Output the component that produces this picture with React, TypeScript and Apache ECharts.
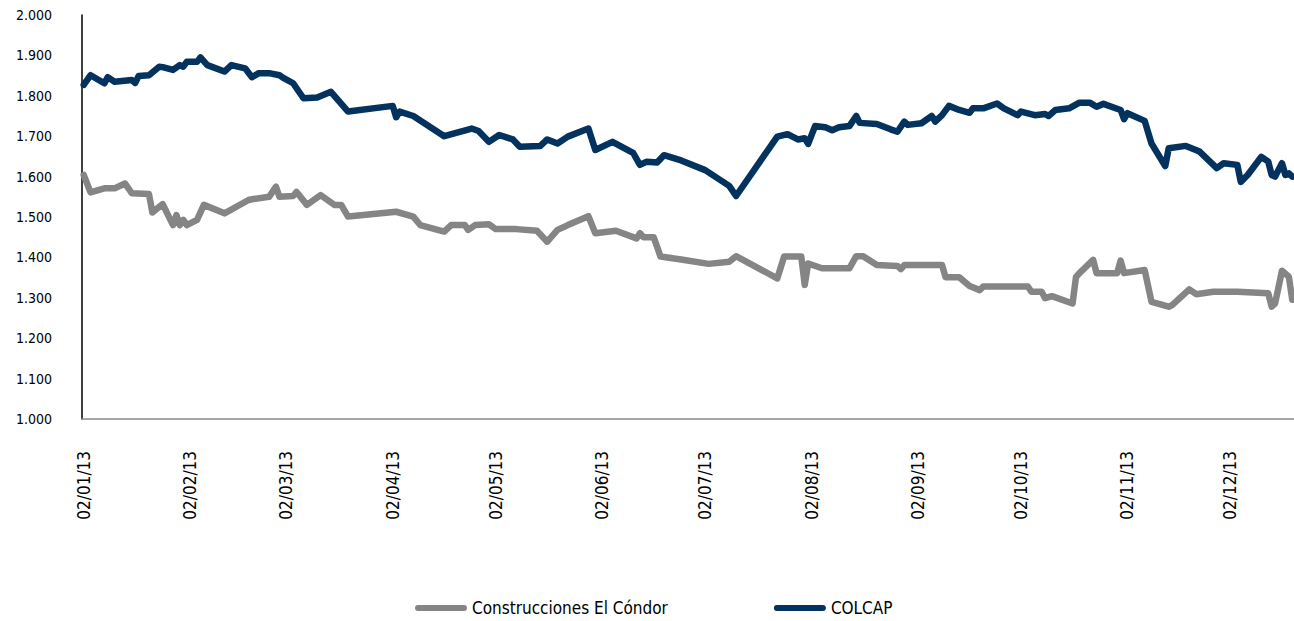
import React, { useEffect, useRef } from "react";
import * as echarts from "echarts";

const seriesNames = ["Construcciones El Cóndor", "COLCAP"];

const colcapDates = [
  "2013-01-02", "2013-01-04", "2013-01-08", "2013-01-09", "2013-01-11", "2013-01-16", "2013-01-17", "2013-01-18",
  "2013-01-21", "2013-01-24", "2013-01-25", "2013-01-28", "2013-01-30", "2013-01-31", "2013-02-01", "2013-02-04",
  "2013-02-05", "2013-02-07", "2013-02-12", "2013-02-14", "2013-02-18", "2013-02-20", "2013-02-22", "2013-02-25",
  "2013-02-28", "2013-03-01", "2013-03-04", "2013-03-07", "2013-03-11", "2013-03-15", "2013-03-20", "2013-04-02",
  "2013-04-03", "2013-04-04", "2013-04-08", "2013-04-17", "2013-04-25", "2013-04-27", "2013-04-30", "2013-05-03",
  "2013-05-07", "2013-05-09", "2013-05-15", "2013-05-17", "2013-05-20", "2013-05-23", "2013-05-29", "2013-05-31",
  "2013-06-05", "2013-06-11", "2013-06-13", "2013-06-15", "2013-06-18", "2013-06-20", "2013-06-25", "2013-07-02",
  "2013-07-09", "2013-07-11", "2013-07-23", "2013-07-26", "2013-07-29", "2013-07-31", "2013-08-01", "2013-08-03",
  "2013-08-06", "2013-08-08", "2013-08-10", "2013-08-13", "2013-08-15", "2013-08-16", "2013-08-21", "2013-08-25",
  "2013-08-27", "2013-08-29", "2013-08-30", "2013-09-03", "2013-09-06", "2013-09-07", "2013-09-09", "2013-09-11",
  "2013-09-14", "2013-09-17", "2013-09-18", "2013-09-21", "2013-09-25", "2013-09-27", "2013-10-01", "2013-10-02",
  "2013-10-06", "2013-10-09", "2013-10-10", "2013-10-12", "2013-10-16", "2013-10-19", "2013-10-22", "2013-10-24",
  "2013-10-26", "2013-10-31", "2013-11-01", "2013-11-02", "2013-11-07", "2013-11-09", "2013-11-13", "2013-11-14",
  "2013-11-19", "2013-11-23", "2013-11-28", "2013-11-30", "2013-12-04", "2013-12-05", "2013-12-07", "2013-12-11",
  "2013-12-13", "2013-12-14", "2013-12-15", "2013-12-17", "2013-12-18", "2013-12-19", "2013-12-20",
];
const colcapValues = [
  1827, 1851, 1831, 1846, 1835, 1839, 1832, 1849,
  1851, 1872, 1871, 1864, 1876, 1872, 1884, 1884,
  1895, 1876, 1860, 1876, 1868, 1846, 1856, 1856,
  1851, 1845, 1831, 1794, 1796, 1810, 1761, 1775,
  1747, 1761, 1750, 1700, 1719, 1713, 1686, 1703,
  1692, 1674, 1676, 1692, 1682, 1699, 1719, 1666,
  1686, 1659, 1629, 1637, 1635, 1653, 1640, 1616,
  1577, 1552, 1699, 1705, 1692, 1695, 1681, 1725,
  1722, 1715, 1722, 1725, 1750, 1733, 1730, 1717,
  1711, 1736, 1728, 1732, 1750, 1736, 1752, 1775,
  1765, 1758, 1769, 1769, 1781, 1769, 1752, 1761,
  1752, 1755, 1750, 1765, 1769, 1783, 1783, 1773,
  1780, 1765, 1742, 1757, 1738, 1682, 1626, 1670,
  1676, 1662, 1621, 1633, 1629, 1587, 1604, 1649,
  1637, 1604, 1600, 1633, 1604, 1608, 1600,
];

const condorDates = [
  "2013-01-02", "2013-01-04", "2013-01-08", "2013-01-11", "2013-01-14", "2013-01-16", "2013-01-21", "2013-01-22",
  "2013-01-25", "2013-01-28", "2013-01-29", "2013-01-30", "2013-01-31", "2013-02-01", "2013-02-04", "2013-02-06",
  "2013-02-12", "2013-02-19", "2013-02-20", "2013-02-25", "2013-02-27", "2013-02-28", "2013-03-04", "2013-03-05",
  "2013-03-08", "2013-03-12", "2013-03-16", "2013-03-18", "2013-03-20", "2013-04-03", "2013-04-08", "2013-04-10",
  "2013-04-17", "2013-04-19", "2013-04-23", "2013-04-24", "2013-04-26", "2013-04-30", "2013-05-02", "2013-05-08",
  "2013-05-14", "2013-05-17", "2013-05-20", "2013-05-23", "2013-05-29", "2013-05-31", "2013-06-06", "2013-06-12",
  "2013-06-13", "2013-06-14", "2013-06-17", "2013-06-19", "2013-06-25", "2013-07-03", "2013-07-09", "2013-07-11",
  "2013-07-23", "2013-07-25", "2013-07-30", "2013-07-31", "2013-08-01", "2013-08-05", "2013-08-13", "2013-08-15",
  "2013-08-17", "2013-08-21", "2013-08-27", "2013-08-28", "2013-08-29", "2013-09-09", "2013-09-10", "2013-09-14",
  "2013-09-17", "2013-09-20", "2013-09-21", "2013-10-04", "2013-10-05", "2013-10-08", "2013-10-09", "2013-10-11",
  "2013-10-17", "2013-10-18", "2013-10-19", "2013-10-23", "2013-10-24", "2013-10-30", "2013-10-31", "2013-11-01",
  "2013-11-07", "2013-11-09", "2013-11-14", "2013-11-15", "2013-11-20", "2013-11-22", "2013-11-27", "2013-12-04",
  "2013-12-13", "2013-12-14", "2013-12-15", "2013-12-17", "2013-12-19", "2013-12-20",
];
const condorValues = [
  1604, 1561, 1571, 1571, 1583, 1559, 1557, 1511,
  1532, 1480, 1505, 1480, 1493, 1480, 1493, 1530,
  1509, 1542, 1544, 1550, 1575, 1550, 1552, 1562,
  1530, 1554, 1530, 1530, 1501, 1513, 1501, 1480,
  1464, 1480, 1480, 1468, 1480, 1482, 1470, 1470,
  1466, 1439, 1468, 1480, 1502, 1460, 1466, 1447,
  1460, 1450, 1450, 1402, 1395, 1384, 1389, 1403,
  1348, 1402, 1402, 1332, 1385, 1373, 1373, 1403,
  1403, 1381, 1379, 1371, 1381, 1381, 1351, 1351,
  1329, 1319, 1328, 1328, 1315, 1315, 1299, 1304,
  1286, 1351, 1361, 1394, 1361, 1361, 1392, 1361,
  1369, 1290, 1278, 1282, 1321, 1309, 1315, 1315,
  1311, 1278, 1286, 1367, 1352, 1295,
];

const monthLabelDates = [
  "2013-01-02", "2013-02-02", "2013-03-02", "2013-04-02", "2013-05-02", "2013-06-02",
  "2013-07-02", "2013-08-02", "2013-09-02", "2013-10-02", "2013-11-02", "2013-12-02",
];

const axisStart = "2013-01-01";
const axisEnd = "2013-12-20";
const yMin = 1000;
const yMax = 2000;
const yStep = 100;

const FONT = "'Liberation Sans Narrow', 'DejaVu Sans Condensed', 'Arial Narrow', sans-serif";
const DAY_MS = 24 * 3600 * 1000;
const BASE = Date.UTC(2013, 0, 1);

// day index counted from 1 Jan 2013
function dayIndex(s: string): number {
  const [y, m, d] = s.split("-").map(Number);
  return Math.round((Date.UTC(y, m - 1, d) - BASE) / DAY_MS);
}

function pad(n: number): string {
  return n < 10 ? "0" + n : String(n);
}

function dayLabel(v: number): string {
  const dt = new Date(BASE + Math.round(v) * DAY_MS);
  return pad(dt.getUTCDate()) + "/" + pad(dt.getUTCMonth() + 1) + "/" + pad(dt.getUTCFullYear() % 100);
}

export default function App() {
  const ref = useRef<HTMLDivElement>(null);

  useEffect(() => {
    document.body.style.margin = "0";
    if (!ref.current) return;
    const chart = echarts.init(ref.current, null, { renderer: "svg" });

    const condorData = condorDates.map((d, i) => [dayIndex(d), condorValues[i]]);
    const colcapData = colcapDates.map((d, i) => [dayIndex(d), colcapValues[i]]);

    const legendIcon = "path://M3,0L49,0A3,3,0,0,1,49,6L3,6A3,3,0,0,1,3,0Z";

    chart.setOption({
      animation: false,
      backgroundColor: "#ffffff",
      grid: { left: 82, right: 0, top: 15, bottom: 202 },
      legend: {
        data: seriesNames,
        left: 410,
        top: 594,
        icon: legendIcon,
        itemWidth: 52,
        itemHeight: 6,
        itemGap: 106,
        textStyle: { fontFamily: FONT, fontSize: 17, color: "#000000", lineHeight: 18 },
      },
      xAxis: {
        type: "value",
        min: dayIndex(axisStart) + 0.5,
        max: dayIndex(axisEnd) + 0.5,
        axisLine: { show: true, lineStyle: { color: "#8a8a8a", width: 1.5 } },
        axisTick: { show: false },
        splitLine: { show: false },
        axisLabel: {
          customValues: monthLabelDates.map(dayIndex),
          rotate: 90,
          margin: 32,
          fontFamily: FONT,
          fontSize: 17,
          color: "#000000",
          formatter: (v: number) => dayLabel(v),
        },
      },
      yAxis: {
        type: "value",
        min: yMin,
        max: yMax,
        interval: yStep,
        axisLine: { show: true, lineStyle: { color: "#000000", width: 1.5 } },
        axisTick: { show: false },
        splitLine: { show: false },
        axisLabel: {
          margin: 30,
          fontFamily: FONT,
          fontSize: 14,
          color: "#000000",
          formatter: (v: number) => (v / 1000).toFixed(3),
        },
      },
      series: [
        {
          name: seriesNames[0],
          type: "line",
          data: condorData,
          showSymbol: false,
          symbol: "none",
          color: "#858585",
          lineStyle: { width: 6.5, color: "#858585", cap: "round", join: "round" },
        },
        {
          name: seriesNames[1],
          type: "line",
          data: colcapData,
          showSymbol: false,
          symbol: "none",
          color: "#03325e",
          lineStyle: { width: 6.5, color: "#03325e", cap: "round", join: "round" },
        },
      ],
    });

    return () => chart.dispose();
  }, []);

  return <div ref={ref} style={{ width: 1294, height: 621 }} />;
}
